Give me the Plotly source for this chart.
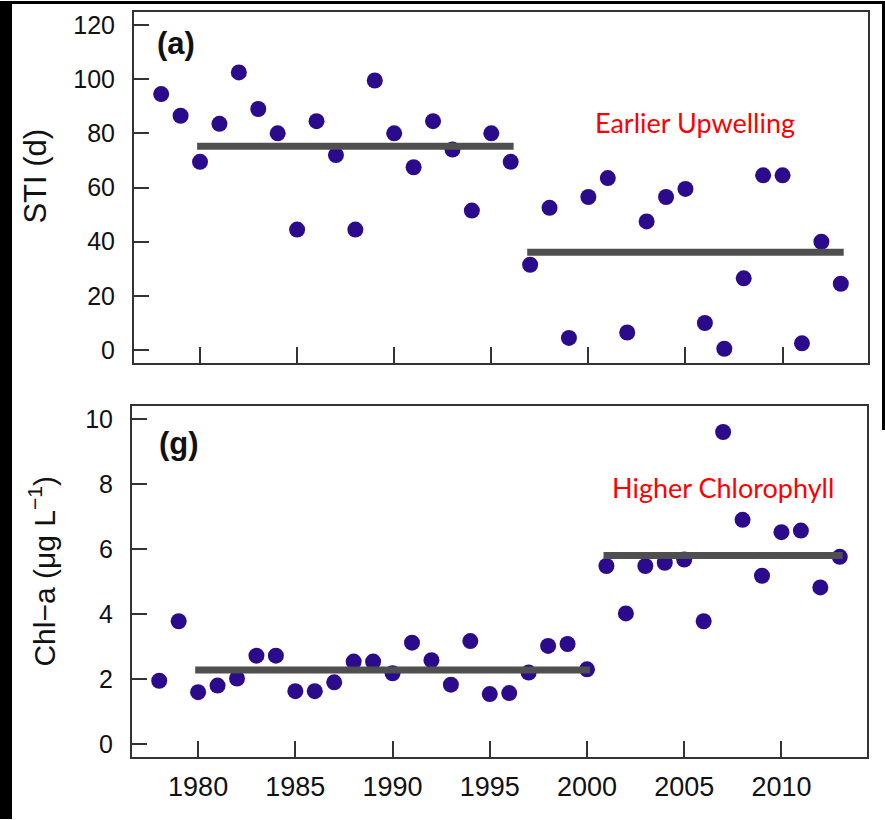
import plotly.graph_objects as go

# ---- data ----
years = list(range(1978, 2014))
sti = [94.5, 86.5, 69.5, 83.5, 102.5, 89, 80, 44.5, 84.5, 72, 44.5, 99.5, 80, 67.5,
       84.5, 74, 51.5, 80, 69.5, 31.5, 52.5, 4.5, 56.5, 63.5, 6.5, 47.5, 56.5, 59.5,
       10, 0.5, 26.5, 64.5, 64.5, 2.5, 40, 24.5]
chl = [1.95, 3.78, 1.6, 1.8, 2.02, 2.72, 2.72, 1.63, 1.63, 1.9, 2.54, 2.54, 2.18, 3.12,
       2.58, 1.83, 3.17, 1.54, 1.57, 2.2, 3.02, 3.08, 2.3, 5.48, 4.02, 5.48, 5.58, 5.68,
       3.78, 9.6, 6.9, 5.18, 6.52, 6.57, 4.82, 5.76]

sti_seg_years = [(1980, 1996), (1997, 2013)]
sti_seg_means = [75.2, 36.1]
chl_seg_years = [(1980, 2000), (2001, 2013)]
chl_seg_means = [2.28, 5.8]

x_ticks = [1980, 1985, 1990, 1995, 2000, 2005, 2010]
sti_ticks = [0, 20, 40, 60, 80, 100, 120]
chl_ticks = [0, 2, 4, 6, 8, 10]

W, H = 885, 820
DOT = "#2c0a8c"
SEG = "#4f4f4f"
FAM = "Liberation Sans, Arial, sans-serif"
YTICKFONT = dict(family=FAM, size=25, color="#111111")
XTICKFONT = dict(family=FAM, size=27, color="#111111")

fig = go.Figure()

# top panel
fig.add_trace(go.Scatter(x=years, y=sti, mode="markers",
                         marker=dict(color=DOT, size=16, line=dict(width=0)),
                         xaxis="x", yaxis="y", showlegend=False))
for (a, b), m in zip(sti_seg_years, sti_seg_means):
    fig.add_trace(go.Scatter(x=[a - 0.15, b + 0.15], y=[m, m], mode="lines",
                             line=dict(color=SEG, width=7), xaxis="x", yaxis="y",
                             showlegend=False))
# bottom panel
fig.add_trace(go.Scatter(x=years, y=chl, mode="markers",
                         marker=dict(color=DOT, size=16, line=dict(width=0)),
                         xaxis="x2", yaxis="y2", showlegend=False))
for (a, b), m in zip(chl_seg_years, chl_seg_means):
    fig.add_trace(go.Scatter(x=[a - 0.15, b + 0.15], y=[m, m], mode="lines",
                             line=dict(color=SEG, width=7), xaxis="x2", yaxis="y2",
                             showlegend=False))

def px_x(v):
    return v / W

def px_y(v):
    return 1 - v / H

axis_common = dict(showline=True, mirror=True, linecolor="#333333", linewidth=2,
                   ticks="inside", tickwidth=2, tickcolor="#333333",
                   showgrid=False, zeroline=False)

fig.update_layout(
    width=W, height=H,
    margin=dict(l=0, r=0, t=0, b=0),
    paper_bgcolor="white", plot_bgcolor="white",
    xaxis=dict(domain=[px_x(134), px_x(868)], range=[1976.6, 2014.4], anchor="y",
               tickvals=x_ticks, showticklabels=False, ticklen=16, **axis_common),
    yaxis=dict(domain=[px_y(363), px_y(11)], range=[-4.8, 124.8], anchor="x",
               tickvals=sti_ticks, ticklen=15, ticklabelstandoff=12,
               tickfont=YTICKFONT, **axis_common),
    xaxis2=dict(domain=[px_x(132), px_x(867)], range=[1976.6, 2014.4], anchor="y2",
                tickvals=x_ticks, ticktext=[str(t) for t in x_ticks], ticklen=16,
                ticklabelstandoff=4, tickfont=XTICKFONT, **axis_common),
    yaxis2=dict(domain=[px_y(758), px_y(406)], range=[-0.4, 10.4], anchor="x2",
                tickvals=chl_ticks, ticklen=15, ticklabelstandoff=12,
                tickfont=YTICKFONT, **axis_common),
)

annots = [
    dict(text="STI (d)", x=px_x(36), y=px_y(176), xref="paper", yref="paper",
         xanchor="center", yanchor="middle", textangle=-90, showarrow=False,
         font=dict(family=FAM, size=31, color="#111111")),
    dict(text="Chl\u2212a (\u03bcg L<sup>\u22121</sup>)", x=px_x(42), y=px_y(572),
         xref="paper", yref="paper", xanchor="center", yanchor="middle",
         textangle=-90, showarrow=False,
         font=dict(family=FAM, size=30, color="#111111")),
    dict(text="<b>(a)</b>", x=px_x(176), y=px_y(43), xref="paper", yref="paper",
         xanchor="center", yanchor="middle",
         showarrow=False, font=dict(family=FAM, size=31, color="#111111")),
    dict(text="<b>(g)</b>", x=px_x(179), y=px_y(444), xref="paper", yref="paper",
         xanchor="center", yanchor="middle",
         showarrow=False, font=dict(family=FAM, size=31, color="#111111")),
    dict(text="Earlier Upwelling", x=2005.5, y=84.1, xref="x", yref="y",
         xanchor="center", yanchor="middle",
         showarrow=False, font=dict(family="Lato, Carlito, Calibri", size=27, color="#ff0000")),
    dict(text="Higher Chlorophyll", x=2007.0, y=7.88, xref="x2", yref="y2",
         xanchor="center", yanchor="middle",
         showarrow=False, font=dict(family="Lato, Carlito, Calibri", size=27, color="#ff0000")),
]
fig.update_layout(annotations=annots)

# black frame edges from the original screenshot
shapes = [
    dict(type="rect", xref="paper", yref="paper", x0=0, x1=px_x(12), y0=0, y1=1,
         fillcolor="black", line=dict(width=0), layer="above"),
    dict(type="rect", xref="paper", yref="paper", x0=0, x1=1, y0=px_y(3), y1=1,
         fillcolor="black", line=dict(width=0), layer="above"),
    dict(type="rect", xref="paper", yref="paper", x0=px_x(882), x1=1, y0=px_y(430), y1=1,
         fillcolor="black", line=dict(width=0), layer="above"),
]
fig.update_layout(shapes=shapes)

fig.write_html("out.html")
